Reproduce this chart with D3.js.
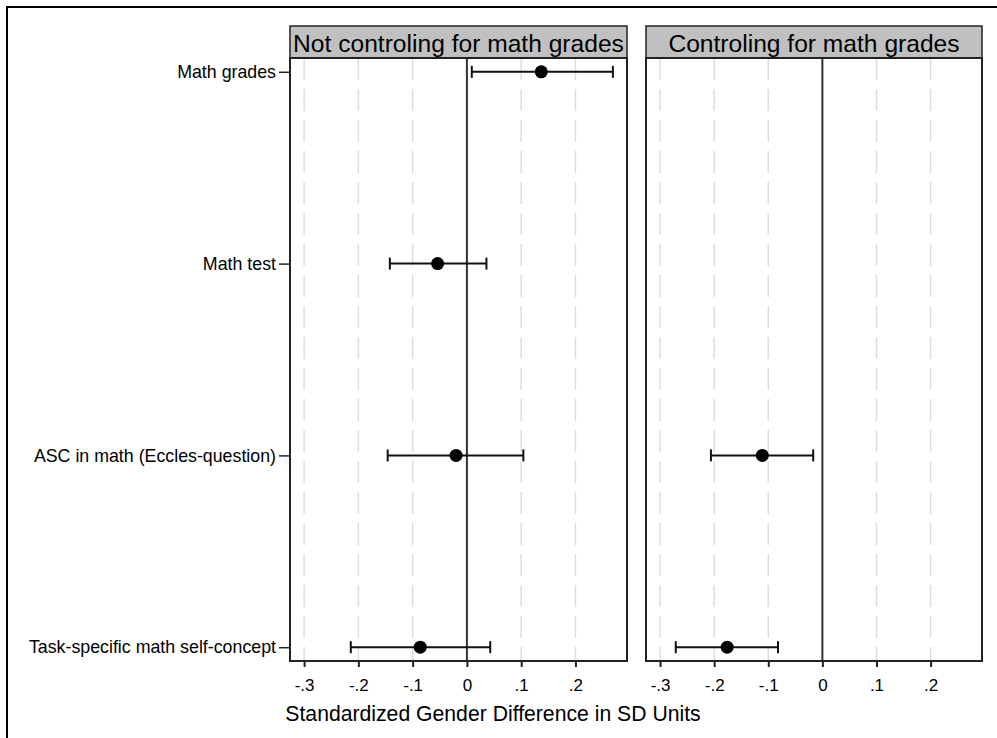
<!DOCTYPE html>
<html>
<head>
<meta charset="utf-8">
<script src="https://cdn.jsdelivr.net/npm/d3@7"></script>
<style>
  html, body { margin: 0; padding: 0; background: #fff; }
  svg { display: block; font-family: "Liberation Sans", Arial, sans-serif; }
</style>
</head>
<body>
<svg id="chart" width="997" height="738"></svg>
<script>
// Outcome rows (top to bottom)
const categories = [
  "Math grades",
  "Math test",
  "ASC in math (Eccles-question)",
  "Task-specific math self-concept"
];

// Panel titles
const panelTitles = ["Not controling for math grades", "Controling for math grades"];

// Estimates and 95% confidence bounds, one array per panel (null = not estimated)
const estNoControl = [0.137, -0.054, -0.020, -0.086];
const loNoControl  = [0.009, -0.142, -0.146, -0.214];
const hiNoControl  = [0.269,  0.036,  0.104,  0.043];

const estControl = [null, null, -0.111, -0.176];
const loControl  = [null, null, -0.206, -0.271];
const hiControl  = [null, null, -0.017, -0.082];

const xTicks = [-0.3, -0.2, -0.1, 0, 0.1, 0.2];
const xTickLabels = ["-.3", "-.2", "-.1", "0", ".1", ".2"];
const xDomain = [-0.326, 0.295];

const axisTitle = "Standardized Gender Difference in SD Units";

const panels = [
  { title: panelTitles[0], est: estNoControl, lo: loNoControl, hi: hiNoControl, x0: 290, x1: 627, yLabels: true },
  { title: panelTitles[1], est: estControl,   lo: loControl,   hi: hiControl,   x0: 646, x1: 982, yLabels: false }
];

const svg = d3.select("#chart");

// outer frame
svg.append("rect")
  .attr("x", 7).attr("y", 7).attr("width", 1000).attr("height", 1000)
  .attr("fill", "none").attr("stroke", "#000").attr("stroke-width", 2);

const plotTop = 58, plotBottom = 661;
const headTop = 26;

const y = d3.scalePoint()
  .domain(categories)
  .range([plotTop, plotBottom])
  .padding(0.072);

panels.forEach(p => {
  const x = d3.scaleLinear().domain(xDomain).range([p.x0, p.x1]);
  const g = svg.append("g");

  // gridlines
  g.selectAll("line.grid")
    .data(xTicks.filter(t => t !== 0))
    .join("line")
    .attr("class", "grid")
    .attr("x1", d => x(d)).attr("x2", d => x(d))
    .attr("y1", plotTop).attr("y2", plotBottom)
    .attr("stroke", "#dedede").attr("stroke-width", 1.5)
    .attr("stroke-dasharray", "22,9");

  // zero reference line
  g.append("line")
    .attr("x1", x(0)).attr("x2", x(0))
    .attr("y1", plotTop).attr("y2", plotBottom)
    .attr("stroke", "#333").attr("stroke-width", 2);

  // header strip
  g.append("rect")
    .attr("x", p.x0).attr("y", headTop)
    .attr("width", p.x1 - p.x0).attr("height", plotTop - headTop)
    .attr("fill", "#c0c0c0").attr("stroke", "#222").attr("stroke-width", 1.5);
  g.append("text")
    .attr("x", (p.x0 + p.x1) / 2).attr("y", (headTop + plotTop) / 2 + 1)
    .attr("text-anchor", "middle").attr("dominant-baseline", "central")
    .attr("font-size", 24.6).attr("fill", "#000")
    .text(p.title);

  // plot frame
  g.append("rect")
    .attr("x", p.x0).attr("y", plotTop)
    .attr("width", p.x1 - p.x0).attr("height", plotBottom - plotTop)
    .attr("fill", "none").attr("stroke", "#222").attr("stroke-width", 2);

  // x axis
  const xAxis = d3.axisBottom(x)
    .tickValues(xTicks)
    .tickFormat((d, i) => xTickLabels[i])
    .tickSize(6).tickPadding(12);
  const ax = g.append("g").attr("transform", `translate(0,${plotBottom})`).call(xAxis);
  ax.select(".domain").remove();
  ax.selectAll(".tick line").attr("stroke", "#222").attr("stroke-width", 2);
  ax.selectAll(".tick text").attr("font-size", 17).attr("fill", "#000")
    .attr("font-family", "Liberation Sans, Arial, sans-serif");

  // y axis
  if (p.yLabels) {
    const yAxis = d3.axisLeft(y).tickSize(11).tickPadding(3);
    const ay = g.append("g").attr("transform", `translate(${p.x0},0)`).call(yAxis);
    ay.select(".domain").remove();
    ay.selectAll(".tick line").attr("stroke", "#222").attr("stroke-width", 1.5);
    ay.selectAll(".tick text").attr("font-size", 17.8).attr("fill", "#000")
      .attr("font-family", "Liberation Sans, Arial, sans-serif");
  }

  // error bars and points
  const rows = categories.map((c, i) => ({ c, est: p.est[i], lo: p.lo[i], hi: p.hi[i] }))
    .filter(d => d.est !== null);
  const capH = 6;
  const eb = g.selectAll("g.row").data(rows).join("g").attr("class", "row");
  eb.append("line")
    .attr("x1", d => x(d.lo)).attr("x2", d => x(d.hi))
    .attr("y1", d => y(d.c)).attr("y2", d => y(d.c))
    .attr("stroke", "#111").attr("stroke-width", 2);
  eb.append("line")
    .attr("x1", d => x(d.lo)).attr("x2", d => x(d.lo))
    .attr("y1", d => y(d.c) - capH).attr("y2", d => y(d.c) + capH)
    .attr("stroke", "#111").attr("stroke-width", 2);
  eb.append("line")
    .attr("x1", d => x(d.hi)).attr("x2", d => x(d.hi))
    .attr("y1", d => y(d.c) - capH).attr("y2", d => y(d.c) + capH)
    .attr("stroke", "#111").attr("stroke-width", 2);
  eb.append("circle")
    .attr("cx", d => x(d.est)).attr("cy", d => y(d.c))
    .attr("r", 6.5).attr("fill", "#000");
});

// common x axis title
svg.append("text")
  .attr("x", 493).attr("y", 721)
  .attr("text-anchor", "middle")
  .attr("font-size", 21.2).attr("fill", "#000")
  .text(axisTitle);
</script>
</body>
</html>
